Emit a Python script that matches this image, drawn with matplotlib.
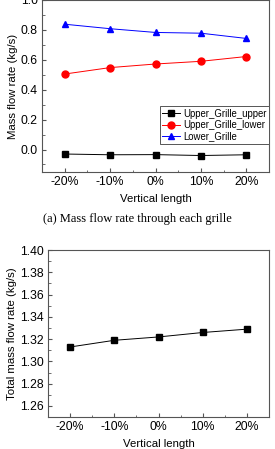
import numpy as np
from matplotlib import pyplot as plt
from matplotlib.ticker import MultipleLocator

plt.rcParams['font.family'] = ['Liberation Sans', 'DejaVu Sans']

cases = ['-20%', '-10%', '0%', '10%', '20%']
upper_upper = [-0.030, -0.035, -0.034, -0.040, -0.035]
upper_lower = [0.505, 0.548, 0.572, 0.590, 0.622]
lower_grille = [0.838, 0.808, 0.783, 0.778, 0.743]
total_flow = [1.313, 1.319, 1.322, 1.326, 1.329]

x = np.arange(len(cases))
tick_fs = 8.8
label_fs = 8.2

def style(ax):
    for s in ax.spines.values():
        s.set_color('#555555')
        s.set_linewidth(0.8)
    ax.tick_params(which='both', direction='in', color='#555555', labelsize=tick_fs, pad=3)
    ax.tick_params(which='major', length=3)
    ax.tick_params(which='minor', length=1.8)
    ax.set_xticks(x)
    ax.set_xticklabels(cases)
    ax.set_xlim(-0.5, 4.5)
    ax.xaxis.set_minor_locator(MultipleLocator(0.5))

fig = plt.figure(figsize=(2.75, 4.49), dpi=100)

# (a) mass flow rate through each grille
ax1 = fig.add_axes([0.153, 0.617, 0.825, 0.383])
ax1.plot(x, upper_upper, 's-', color='black', lw=0.7, ms=4.5, label='Upper_Grille_upper')
ax1.plot(x, upper_lower, 'o-', color='red', lw=0.7, ms=5, label='Upper_Grille_lower')
ax1.plot(x, lower_grille, '^-', color='blue', lw=0.7, ms=5, label='Lower_Grille')
style(ax1)
ax1.set_ylim(-0.15, 1.0)
ax1.yaxis.set_major_locator(MultipleLocator(0.2))
ax1.yaxis.set_minor_locator(MultipleLocator(0.1))
ax1.yaxis.set_major_formatter(plt.FormatStrFormatter('%.1f'))
ax1.set_ylabel('Mass flow rate (kg/s)', fontsize=label_fs, labelpad=2)
ax1.set_xlabel('Vertical length', fontsize=label_fs, labelpad=4)
leg = ax1.legend(loc='lower right', bbox_to_anchor=(1.0, 0.163), borderaxespad=0,
                 fontsize=6.9, handlelength=1.9, handletextpad=0.3, borderpad=0.25,
                 labelspacing=0.15, fancybox=False, framealpha=1)
leg.get_frame().set_edgecolor('#555555')
leg.get_frame().set_linewidth(0.7)

fig.text(0.5, 1 - 219 / 449, '(a) Mass flow rate through each grille', ha='center', va='center',
         fontsize=9, family=['Liberation Serif', 'DejaVu Serif'])

# (b) total mass flow rate
ax2 = fig.add_axes([0.175, 0.071, 0.803, 0.372])
ax2.plot(x, total_flow, 's-', color='black', lw=0.7, ms=4.5)
style(ax2)
ax2.set_ylim(1.25, 1.40)
ax2.yaxis.set_major_locator(MultipleLocator(0.02))
ax2.yaxis.set_minor_locator(MultipleLocator(0.01))
ax2.yaxis.set_major_formatter(plt.FormatStrFormatter('%.2f'))
ax2.set_ylabel('Total mass flow rate (kg/s)', fontsize=label_fs, labelpad=2)
ax2.set_xlabel('Vertical length', fontsize=label_fs, labelpad=4)

fig.savefig('out.png', dpi=100)
